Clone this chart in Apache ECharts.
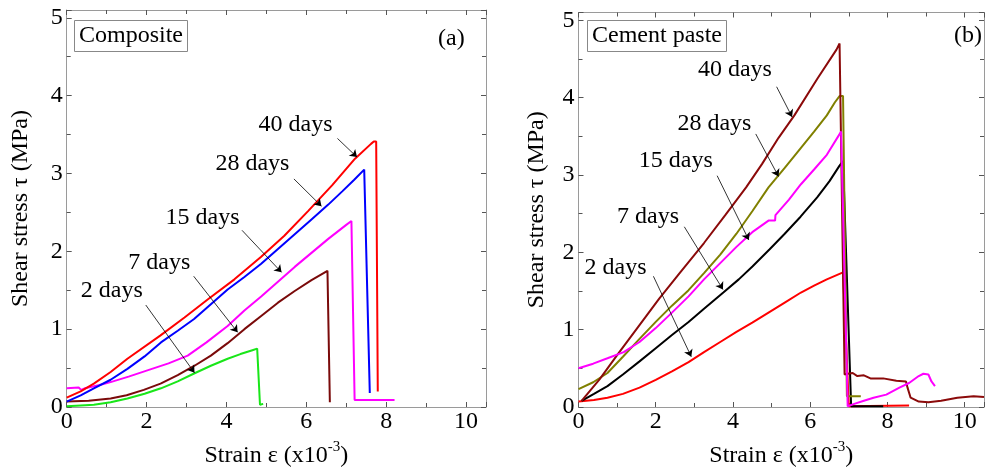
<!DOCTYPE html>
<html>
<head>
<meta charset="utf-8">
<script src="https://cdn.jsdelivr.net/npm/echarts@6/dist/echarts.min.js"></script>
<style>
html,body{margin:0;padding:0;background:#fff;}
#chart{width:987px;height:473px;}
</style>
</head>
<body>
<div id="chart"></div>
<script>
// ---------- data (strain x10^-3, shear stress MPa) ----------
const xTicks = [0, 2, 4, 6, 8, 10];
const yTicks = [0, 1, 2, 3, 4, 5];

// (a) Composite
const compDay40 = [[0,0.12],[0.35,0.20],[0.68,0.30],[1.10,0.45],[1.52,0.62],[2.35,0.92],[2.95,1.15],[3.53,1.38],[4.20,1.64],[4.87,1.93],[5.45,2.20],[6.05,2.52],[6.65,2.85],[7.22,3.19],[7.62,3.38],[7.69,3.41],[7.75,3.41],[7.79,0.20]];
const compDay28 = [[0,0.07],[0.35,0.15],[0.68,0.24],[1.10,0.35],[1.52,0.49],[1.95,0.65],[2.36,0.83],[2.78,0.98],[3.19,1.13],[3.61,1.32],[4.03,1.51],[4.45,1.67],[4.87,1.84],[5.29,2.03],[5.71,2.22],[6.13,2.41],[6.55,2.60],[6.90,2.77],[7.20,2.92],[7.45,3.05],[7.50,3.06],[7.59,0.18]];
const compDay15 = [[0,0.24],[0.30,0.25],[0.36,0.22],[0.45,0.24],[0.80,0.28],[1.10,0.32],[1.55,0.39],[2.02,0.47],[2.55,0.56],[3.03,0.66],[3.50,0.83],[4.03,1.04],[4.45,1.24],[4.87,1.42],[5.29,1.61],[5.71,1.80],[6.13,1.98],[6.55,2.16],[7.00,2.34],[7.13,2.39],[7.21,0.09],[8.21,0.09]];
const compDay7  = [[0,0.07],[0.55,0.08],[1.10,0.11],[1.50,0.15],[1.93,0.22],[2.35,0.30],[2.78,0.41],[3.20,0.53],[3.61,0.66],[4.03,0.82],[4.45,1.00],[4.87,1.17],[5.29,1.34],[5.71,1.49],[6.13,1.63],[6.53,1.75],[6.59,0.06]];
const compDay2  = [[0,0.01],[0.35,0.02],[0.68,0.03],[1.10,0.06],[1.52,0.11],[1.95,0.17],[2.36,0.24],[2.78,0.33],[3.19,0.43],[3.61,0.53],[4.03,0.62],[4.35,0.68],[4.65,0.73],[4.77,0.75],[4.84,0.03],[4.92,0.04]];

// (b) Cement paste
const pasteDay40 = [[0.08,0.08],[0.55,0.36],[1.00,0.67],[1.55,1.04],[2.09,1.40],[2.65,1.75],[3.25,2.12],[3.80,2.48],[4.34,2.84],[4.75,3.14],[5.18,3.48],[5.59,3.77],[6.18,4.24],[6.68,4.62],[6.76,4.70],[6.89,0.42],[6.97,0.43],[7.10,0.44],[7.22,0.40],[7.39,0.41],[7.56,0.37],[7.89,0.37],[8.23,0.34],[8.48,0.33],[8.52,0.25],[8.60,0.12],[8.81,0.07],[9.06,0.06],[9.39,0.08],[9.81,0.12],[10.23,0.14],[10.5,0.13]];
const pasteDay28 = [[0,0.23],[0.38,0.32],[0.75,0.44],[1.15,0.65],[1.58,0.88],[2.00,1.10],[2.42,1.31],[2.85,1.51],[3.25,1.73],[3.67,1.97],[4.09,2.24],[4.50,2.53],[4.92,2.84],[5.34,3.09],[5.76,3.35],[6.10,3.56],[6.43,3.77],[6.64,3.94],[6.76,4.02],[6.85,4.02],[6.95,0.14],[7.31,0.14]];
const pasteDay15 = [[0,0.50],[0.38,0.56],[0.75,0.63],[1.17,0.71],[1.58,0.84],[2.00,1.02],[2.42,1.22],[2.85,1.43],[3.25,1.65],[3.67,1.86],[4.09,2.07],[4.50,2.26],[4.92,2.41],[5.09,2.41],[5.10,2.48],[5.45,2.68],[5.76,2.88],[6.10,3.07],[6.43,3.26],[6.80,3.56],[6.97,0.01],[7.14,0.04],[7.39,0.08],[7.64,0.12],[7.97,0.16],[8.31,0.25],[8.56,0.31],[8.81,0.40],[8.93,0.43],[9.06,0.42],[9.14,0.33],[9.23,0.27]];
const pasteDay7  = [[0.08,0.08],[0.40,0.17],[0.75,0.27],[1.15,0.42],[1.58,0.59],[2.00,0.76],[2.42,0.93],[2.85,1.10],[3.25,1.27],[3.75,1.48],[4.15,1.65],[4.51,1.82],[4.95,2.04],[5.34,2.24],[5.75,2.46],[6.18,2.71],[6.50,2.92],[6.76,3.12],[6.85,3.18],[7.06,0.01],[7.89,0.01]];
const pasteDay2  = [[0,0.07],[0.40,0.09],[0.75,0.12],[1.15,0.17],[1.58,0.25],[2.00,0.35],[2.42,0.46],[2.85,0.58],[3.25,0.71],[3.67,0.84],[4.09,0.97],[4.50,1.09],[4.92,1.22],[5.34,1.35],[5.76,1.48],[6.10,1.57],[6.43,1.65],[6.85,1.74],[7.00,0.01],[8.56,0.02]];

// annotation labels and arrows (data coordinates)
const compLabels  = ['40 days','28 days','15 days','7 days','2 days'];
const compLabelAt = [[5.73,3.63],[4.65,3.12],[3.40,2.43],[2.32,1.86],[1.13,1.49]];
const compArrows  = [[[6.78,3.45],[7.27,3.21]],[[5.69,2.93],[6.38,2.58]],[[4.39,2.27],[5.38,1.73]],[[3.18,1.68],[4.28,0.96]],[[1.98,1.31],[3.20,0.44]]];
const pasteLabels  = ['40 days','28 days','15 days','7 days','2 days'];
const pasteLabelAt = [[4.05,4.36],[3.52,3.66],[2.52,3.18],[1.80,2.46],[0.96,1.80]];
const pasteArrows  = [[[5.13,4.14],[5.53,3.75]],[[4.59,3.53],[5.18,2.98]],[[3.59,2.99],[4.41,2.16]],[[2.74,2.33],[3.74,1.52]],[[1.94,1.69],[2.92,0.65]]];

// ---------- chart ----------
const FONT = "'Liberation Serif','Times New Roman',serif";
const X_MAX = 10.5, Y_MAX = 5.1;
const frameColor = '#9a9a9a';

function xAxisDef(grid, pos, withLabels) {
  const a = {
    type: 'value', gridIndex: grid, position: pos, min: 0, max: X_MAX, interval: 2,
    axisLine: {show: true, onZero: false, lineStyle: {color: frameColor, width: 1}},
    axisTick: {show: true, inside: true, length: 5, lineStyle: {color: '#555'}},
    minorTick: {show: true, splitNumber: 2, length: 4, lineStyle: {color: '#555'}},
    splitLine: {show: false},
    axisLabel: {show: withLabels, color: '#000', fontFamily: FONT, fontSize: 24, margin: 3,
      formatter: v => (xTicks.indexOf(v) >= 0 ? String(v) : '')},
  };
  if (withLabels) {
    a.name = '{t|Strain ε (x10}{s|-3}{t|)}';
    a.nameLocation = 'middle';
    a.nameGap = 33;
    a.nameTextStyle = {rich: {
      t: {fontFamily: FONT, fontSize: 24, color: '#000', lineHeight: 28, verticalAlign: 'bottom'},
      s: {fontFamily: FONT, fontSize: 15, color: '#000', lineHeight: 28, verticalAlign: 'top'}
    }};
  }
  return a;
}
function yAxisDef(grid, pos, withLabels, gap) {
  const a = {
    type: 'value', gridIndex: grid, position: pos, min: 0, max: Y_MAX, interval: 1,
    axisLine: {show: true, onZero: false, lineStyle: {color: frameColor, width: 1}},
    axisTick: {show: true, inside: true, length: 5, lineStyle: {color: '#555'}},
    minorTick: {show: true, splitNumber: 2, length: 4, lineStyle: {color: '#555'}},
    splitLine: {show: false},
    axisLabel: {show: withLabels, color: '#000', fontFamily: FONT, fontSize: 24, margin: 4,
      formatter: v => (yTicks.indexOf(v) >= 0 ? String(v) : '')},
  };
  if (withLabels) {
    a.name = 'Shear stress τ (MPa)';
    a.nameLocation = 'middle';
    a.nameRotate = 90;
    a.nameGap = gap;
    a.nameTextStyle = {fontFamily: FONT, fontSize: 24, color: '#000'};
  }
  return a;
}

function curve(data, color, xi, yi) {
  return {type: 'line', data: data, xAxisIndex: xi, yAxisIndex: yi, showSymbol: false, symbol: 'none',
    lineStyle: {color: color, width: 2}, itemStyle: {color: color}, clip: true, animation: false, z: 3};
}
function arrowsSeries(arrows, xi, yi) {
  return {
    type: 'line', xAxisIndex: xi, yAxisIndex: yi, data: [], animation: false, z: 5,
    markLine: {
      silent: true, animation: false, symbol: ['none', 'arrow'], symbolSize: 7, precision: 3,
      lineStyle: {color: '#000', width: 0.8, type: 'solid', opacity: 1}, label: {show: false},
      data: arrows.map(a => [{coord: a[0]}, {coord: a[1]}])
    }
  };
}

const chart = echarts.init(document.getElementById('chart'), null, {renderer: 'canvas'});
chart.setOption({
  backgroundColor: '#fff',
  animation: false,
  title: [
    {text: 'Composite', left: 74, top: 20, padding: [3, 5, 3, 5], borderColor: '#888', borderWidth: 1,
      textStyle: {fontFamily: FONT, fontSize: 24, fontWeight: 'normal', color: '#000', lineHeight: 26}},
    {text: '(a)', left: 438, top: 26, padding: 0,
      textStyle: {fontFamily: FONT, fontSize: 24, fontWeight: 'normal', color: '#000', lineHeight: 26}},
    {text: 'Cement paste', left: 587, top: 20, padding: [3, 5, 3, 5], borderColor: '#888', borderWidth: 1,
      textStyle: {fontFamily: FONT, fontSize: 24, fontWeight: 'normal', color: '#000', lineHeight: 26}},
    {text: '(b)', left: 954, top: 23, padding: 0,
      textStyle: {fontFamily: FONT, fontSize: 24, fontWeight: 'normal', color: '#000', lineHeight: 26}}
  ],
  grid: [
    {left: 66.7, top: 10, width: 419.3, height: 402.7, containLabel: false},
    {left: 578.5, top: 12.5, width: 419, height: 400.2, containLabel: false}
  ],
  xAxis: [xAxisDef(0, 'bottom', true), xAxisDef(0, 'top', false), xAxisDef(1, 'bottom', true), xAxisDef(1, 'top', false)],
  yAxis: [yAxisDef(0, 'left', true, 34), yAxisDef(0, 'right', false), yAxisDef(1, 'left', true, 30), yAxisDef(1, 'right', false)],
  series: [
    curve(compDay2, '#19e619', 0, 0),
    curve(compDay7, '#7a0a0a', 0, 0),
    curve(compDay15, '#ff00ff', 0, 0),
    curve(compDay28, '#0000ff', 0, 0),
    curve(compDay40, '#ff0000', 0, 0),
    arrowsSeries(compArrows, 0, 0),
    curve(pasteDay2, '#ff0000', 2, 2),
    curve(pasteDay7, '#000000', 2, 2),
    curve(pasteDay28, '#808000', 2, 2),
    curve(pasteDay40, '#8b0a0a', 2, 2),
    curve(pasteDay15, '#ff00ff', 2, 2),
    arrowsSeries(pasteArrows, 2, 2)
  ]
});

// day labels placed through the library's own coordinate conversion
function labelGraphics(labels, at, gridIndex) {
  return labels.map((t, i) => {
    const p = chart.convertToPixel({gridIndex: gridIndex}, at[i]);
    return {type: 'text', x: p[0], y: p[1], z: 10, silent: true,
      style: {text: t, fill: '#000', font: "24px 'Liberation Serif','Times New Roman',serif",
        textAlign: 'center', textVerticalAlign: 'middle'}};
  });
}
chart.setOption({graphic: labelGraphics(compLabels, compLabelAt, 0).concat(labelGraphics(pasteLabels, pasteLabelAt, 1))});
</script>
</body>
</html>
